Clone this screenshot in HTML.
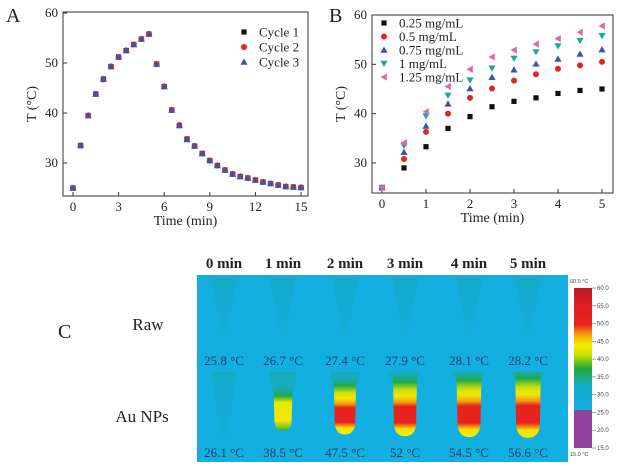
<!DOCTYPE html>
<html><head><meta charset="utf-8"><style>
body{margin:0;background:#fff;}
svg{display:block;font-family:"Liberation Serif",serif;}
</style></head><body>
<svg id="fig" width="636" height="466" viewBox="0 0 636 466" xmlns="http://www.w3.org/2000/svg">
<defs>
<linearGradient id="cbar" x1="0" y1="0" x2="0" y2="1">
<stop offset="0" stop-color="#b81c24"/><stop offset="0.12" stop-color="#e01b24"/><stop offset="0.3" stop-color="#e8231e"/><stop offset="0.38" stop-color="#f5a10a"/><stop offset="0.47" stop-color="#f4ee00"/><stop offset="0.55" stop-color="#c8e000"/><stop offset="0.66" stop-color="#22aa3a"/><stop offset="0.72" stop-color="#1fa870"/><stop offset="0.8" stop-color="#12aec8"/><stop offset="1" stop-color="#12aee0"/>
</linearGradient>
<linearGradient id="tubeHot" x1="0" y1="0" x2="0" y2="1">
<stop offset="0" stop-color="#1fa86a" stop-opacity="0"/><stop offset="0.12" stop-color="#22a848"/><stop offset="0.25" stop-color="#c8e010"/><stop offset="0.35" stop-color="#f4e800"/><stop offset="0.45" stop-color="#f0a010"/><stop offset="0.52" stop-color="#e8231e"/><stop offset="0.78" stop-color="#e8231e"/><stop offset="0.88" stop-color="#f4e000"/><stop offset="1" stop-color="#f4ee00"/>
</linearGradient>
<linearGradient id="tubeWarm" x1="0" y1="0" x2="0" y2="1">
<stop offset="0" stop-color="#1fa86a" stop-opacity="0"/><stop offset="0.2" stop-color="#22a848"/><stop offset="0.35" stop-color="#e8e800"/><stop offset="0.75" stop-color="#f4e800"/><stop offset="0.9" stop-color="#8cc820"/><stop offset="1" stop-color="#22a848"/>
</linearGradient>
<linearGradient id="cone" x1="0" y1="0" x2="0" y2="1">
<stop offset="0" stop-color="#16a6b8" stop-opacity="0.5"/><stop offset="1" stop-color="#16a6b8" stop-opacity="0.1"/>
</linearGradient>
</defs>
<g id="pa"></g>
<g id="pb"></g>
<g id="pc"></g>
</svg>
<script>
const aTimes=[0,0.5,1,1.5,2,2.5,3,3.5,4,4.5,5,5.5,6,6.5,7,7.5,8,8.5,9,9.5,10,10.5,11,11.5,12,12.5,13,13.5,14,14.5,15];
const aCycle1=[25,33.5,39.5,43.8,46.8,49.3,51.2,52.5,53.7,54.8,55.8,49.8,45.3,40.6,37.5,34.8,33.4,31.9,30.5,29.5,28.6,27.8,27.3,27.0,26.6,26.2,25.9,25.6,25.3,25.2,25.1];
const aCycle2=[25,33.5,39.5,43.8,46.7,49.3,51.2,52.5,53.7,54.8,55.8,49.8,45.3,40.6,37.6,34.8,33.4,31.9,30.5,29.5,28.6,27.8,27.3,27.0,26.6,26.2,25.9,25.6,25.3,25.2,25.1];
const aCycle3=[25,33.5,39.5,43.8,46.8,49.3,51.2,52.5,53.7,54.8,55.8,49.8,45.3,40.6,37.5,34.7,33.4,31.9,30.5,29.5,28.6,27.8,27.3,27.0,26.6,26.2,25.9,25.6,25.3,25.2,25.1];
const aXTicks=[0,3,6,9,12,15];
const aYTicks=[30,40,50,60];
const bTimes=[0,0.5,1,1.5,2,2.5,3,3.5,4,4.5,5];
const b025=[25,29,33.3,37,39.4,41.4,42.5,43.2,44.1,44.7,45];
const b05=[25,30.8,36.3,40,43.2,45.1,46.7,48,49.1,49.8,50.5];
const b075=[25,32.2,37.5,42,45.1,47.4,48.9,50.1,51.1,52.1,53];
const b1=[25,33.5,39.5,43.7,46.8,49.2,51.2,52.5,53.7,54.8,55.8];
const b125=[25,34.1,40.4,45.5,49,51.5,52.9,54.1,55.2,56.5,57.8];
const bXTicks=[0,1,2,3,4,5];
const bYTicks=[30,40,50,60];
const cTimes=["0 min","1 min","2 min","3 min","4 min","5 min"];
const cRaw=["25.8","26.7","27.4","27.9","28.1","28.2"];
const cAu=["26.1","38.5","47.5","52","54.5","56.6"];
const cbTicks=["60.0","55.0","50.0","45.0","40.0","35.0","30.0","25.0","20.0","15.0"];

const NS="http://www.w3.org/2000/svg";
function mk(p,t,a,txt){const e=document.createElementNS(NS,t);for(const k in a)e.setAttribute(k,a[k]);if(txt!==undefined)e.textContent=txt;p.appendChild(e);return e;}
function marker(g,type,x,y,c){let e;
 if(type==="sq")e=mk(g,"rect",{x:x-2.6,y:y-2.6,width:5.2,height:5.2,fill:c});
 else if(type==="ci")e=mk(g,"circle",{cx:x,cy:y,r:3,fill:c});
 else if(type==="up")e=mk(g,"polygon",{points:`${x},${y-3.5} ${x+3.6},${y+2.8} ${x-3.6},${y+2.8}`,fill:c});
 else if(type==="dn")e=mk(g,"polygon",{points:`${x},${y+3.5} ${x+3.6},${y-2.8} ${x-3.6},${y-2.8}`,fill:c});
 else e=mk(g,"polygon",{points:`${x-3.5},${y} ${x+2.8},${y-3.6} ${x+2.8},${y+3.6}`,fill:c});
 return e;}
function axes(g,L,R,T,B,xs,ys,xt,yt,letter,lx){
 mk(g,"rect",{x:L,y:T,width:R-L,height:B-T,fill:"none",stroke:"#333","stroke-width":1});
 xt.forEach(v=>{const x=xs(v);mk(g,"line",{x1:x,x2:x,y1:B,y2:B-4,stroke:"#333"});
  const t=mk(g,"text",{x:x,y:B+15,"text-anchor":"middle","font-size":13,fill:"#222"},v);
  
  });
 yt.forEach(v=>{const y=ys(v);mk(g,"line",{x1:L,x2:L+4,y1:y,y2:y,stroke:"#333"});
  const t=mk(g,"text",{x:L-5,y:y+4,"text-anchor":"end","font-size":13,fill:"#222"},v);
  
  });
 const xtl=mk(g,"text",{x:(L+R)/2,y:B+29,"text-anchor":"middle","font-size":14,fill:"#222"},"Time (min)");
 
 
 const ytl=mk(g,"text",{x:0,y:0,transform:`translate(${L-27},${(T+B)/2}) rotate(-90)`,"text-anchor":"middle","font-size":14,fill:"#222"},"T (°C)");
 
 
 const pl=mk(g,"text",{x:lx,y:22,"font-size":20,fill:"#222"},letter);
 
 
}
// Panel A
(function(){const g=document.getElementById("pa");
 const L=63,R=308,T=12,B=196;const xs=v=>73+v*(301-73)/15;const ys=v=>163-(v-30)*5;
 axes(g,L,R,T,B,xs,ys,aXTicks,aYTicks,"A",6);
 const ser=[[aCycle1,"sq","#111","Cycle 1"],[aCycle2,"ci","#e8231e","Cycle 2"],[aCycle3,"up","#3a56a8","Cycle 3"]];
 ser.forEach((s,i)=>{s[0].forEach((v,j)=>{const m=marker(g,s[1],xs(aTimes[j]),ys(v),s[2]);
   
   });
  const ly=32+i*15;const lm=marker(g,s[1],244,ly,s[2]);
  
  
  const lt=mk(g,"text",{x:259,y:ly+4.5,"font-size":13,fill:"#222"},s[3]);
  
  });
})();
// Panel B
(function(){const g=document.getElementById("pb");
 const L=372,R=613,T=15,B=193;const xs=v=>382+v*(602-382)/5;const ys=v=>163-(v-30)*(148/30);
 axes(g,L,R,T,B,xs,ys,bXTicks,bYTicks,"B",329);
 const ser=[[b025,"sq","#111","0.25 mg/mL"],[b05,"ci","#e8231e","0.5 mg/mL"],[b075,"up","#3a56a8","0.75 mg/mL"],[b1,"dn","#1ba8a0","1 mg/mL"],[b125,"lt","#e066a8","1.25 mg/mL"]];
 ser.forEach((s,i)=>{s[0].forEach((v,j)=>{const m=marker(g,s[1],xs(bTimes[j]),ys(v),s[2]);
   
   });
  const ly=23+i*13.5;const lm=marker(g,s[1],384,ly,s[2]);
  
  
  const lt=mk(g,"text",{x:399,y:ly+4.5,"font-size":13,fill:"#222"},s[3]);
  
  });
})();
// Panel C
(function(){const g=document.getElementById("pc");
 const pl=mk(g,"text",{x:58,y:338,"font-size":20,fill:"#222"},"C");
 
 
 const bg=mk(g,"rect",{x:197,y:275,width:371,height:187,fill:"#13afe0"});
 
 
 const cx=[224,283,345,405,469,528];
 cTimes.forEach((t,i)=>{const x=cx[i];
  const lab=mk(g,"text",{x:x,y:268,"text-anchor":"middle","font-size":15,"font-weight":"bold",fill:"#222"},t);
  
  
  mk(g,"polygon",{points:`${x-13},278 ${x+13},278 ${x+2},340 ${x-2},340`,fill:"url(#cone)"});
  const au=parseFloat(cAu[i]);
  if(au<30){mk(g,"polygon",{points:`${x-13},372 ${x+13},372 ${x+2},443 ${x-2},443`,fill:"url(#cone)"});}
  else{
   const s=Math.min(1,(au-30)/27);
   const top=395-s*25, bot=428+s*10, w=8+s*5;
   mk(g,"polygon",{points:`${x-w-4},372 ${x+w+4},372 ${x+w},${top+10} ${x-w},${top+10}`,fill:"#1ba88a",opacity:0.45});
   const h=mk(g,"path",{d:`M${x-w},${top} L${x+w},${top} L${x+w-1},${bot-w} Q${x+w-2},${bot} ${x},${bot} Q${x-w+2},${bot} ${x-w+1},${bot-w} Z`,fill:au<42?"url(#tubeWarm)":"url(#tubeHot)"});
   
   }
  const r=mk(g,"text",{x:x,y:365,"text-anchor":"middle","font-size":13,fill:"#1d3c6a"},cRaw[i]+" °C");
  
  
  const a=mk(g,"text",{x:x,y:457,"text-anchor":"middle","font-size":13,fill:"#1d3c6a"},cAu[i]+" °C");
  
  });
 const rl=mk(g,"text",{x:148,y:330,"text-anchor":"middle","font-size":17,fill:"#222"},"Raw");
 
 
 const al=mk(g,"text",{x:142,y:422,"text-anchor":"middle","font-size":17,fill:"#222"},"Au NPs");
 
 
 const cb=mk(g,"rect",{x:574,y:288,width:18,height:122,fill:"url(#cbar)"});
 
 
 mk(g,"rect",{x:574,y:410,width:18,height:38,fill:"#92449c"});
 cbTicks.forEach((t,i)=>{const y=288+i*160/9;mk(g,"line",{x1:592,x2:596,y1:y,y2:y,stroke:"#666","stroke-width":0.6});
  const e=mk(g,"text",{x:597,y:y+2,"font-size":6,fill:"#444","font-family":"Liberation Sans, sans-serif"},t);
  
  });
 mk(g,"text",{x:570,y:283,"font-size":5.5,fill:"#444","font-family":"Liberation Sans, sans-serif"},"60.0 °C");
 mk(g,"text",{x:570,y:456,"font-size":5.5,fill:"#444","font-family":"Liberation Sans, sans-serif"},"15.0 °C");
})();
</script>
</body></html>
